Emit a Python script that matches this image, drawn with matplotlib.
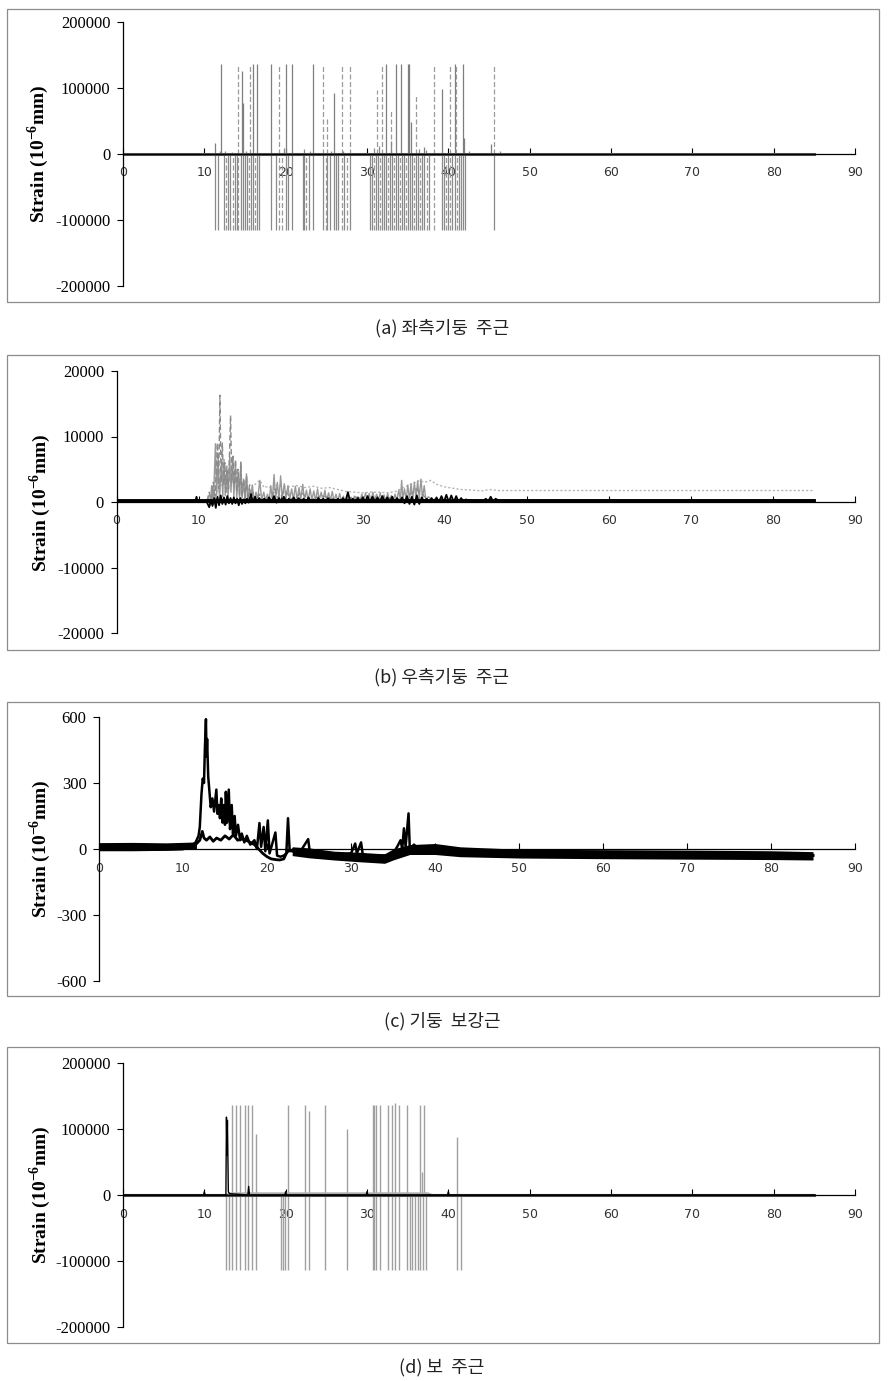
import numpy as np
import matplotlib
matplotlib.use("Agg")
import matplotlib.pyplot as plt
from matplotlib.patches import Rectangle

plt.rcParams['axes.unicode_minus'] = False
plt.rcParams['mathtext.fontset'] = 'custom'
plt.rcParams['mathtext.rm'] = 'Liberation Serif'
plt.rcParams['mathtext.bf'] = 'Liberation Serif:bold'

# ---------------- (a) left column main bars ----------------
a_floor = -115000
a_pos_solid_t = [11.35, 12.04, 14.61, 14.73, 16.0, 16.49, 18.2, 20.08, 20.73, 23.31, 26.0, 32.33,
                 33.59, 34.2, 35.06, 35.22, 35.47, 36.98, 39.27, 40.78, 41.8, 41.88, 45.22]
a_pos_solid_v = [17000, 137000, 125000, 77000, 137000, 137000, 137000, 137000, 137000, 137000, 93000, 137000,
                 137000, 137000, 137000, 137000, 49000, 10000, 99000, 137000, 137000, 24000, 15000]
a_pos_dash_t = [14.12, 15.63, 19.22, 24.65, 25.14, 26.9, 27.88, 31.27, 31.88, 32.94, 36.08, 38.29,
                40.24, 40.94, 45.67]
a_pos_dash_v = [137000, 137000, 136000, 137000, 56000, 137000, 135000, 97000, 137000, 66000, 89000, 136000,
                136000, 137000, 136000]
a_neg_solid_t = [11.35, 11.63, 12.37, 12.94, 13.18, 13.71, 13.96, 14.49, 14.73, 14.98, 15.27, 15.76, 16.0,
                 16.49, 16.69, 18.2, 18.78, 20.08, 20.33, 20.73, 22.08, 22.29, 22.82, 23.31, 24.65,
                 25.14, 25.39, 26.0, 26.24, 26.49, 27.22, 27.88, 30.41, 30.61, 31.1, 31.35, 31.88, 32.12,
                 32.37, 32.86, 33.1, 33.59, 33.84, 34.33, 34.57, 35.06, 35.31, 35.55, 36.04, 36.29, 36.82,
                 37.06, 37.59, 39.27, 39.51, 40.0, 40.49, 40.78, 41.27, 41.51, 41.8, 42.04, 45.67]
a_neg_dash_t = [12.65, 13.47, 14.2, 15.51, 16.24, 19.22, 19.51, 22.53, 24.9, 26.9, 27.51, 30.86, 31.63,
                32.61, 33.35, 34.08, 34.82, 35.8, 36.53, 37.35, 38.29, 39.76, 40.24, 41.02]
a_small_t = [11.9, 12.5, 13.4, 15.1, 19.8, 22.3, 23.0, 25.6, 27.0, 30.8, 31.5, 33.0, 36.4, 37.3, 42.5, 46.3]
a_small_v = [5000, 4000, 3500, 4000, 9000, 8000, 5000, 5000, 4000, 9000, 12000, 20000, 8000, 6000, 4000, 4000]

# ---------------- (b) right column main bars ----------------
b_dash_t = [0, 11.0, 11.3, 11.5, 11.8, 12.0, 12.3, 12.45, 12.6, 12.75, 12.9, 13.05, 13.2, 13.35, 13.5,
            13.65, 13.9, 14.05, 14.2, 14.35, 14.5, 14.65, 14.8, 15.0, 15.15, 15.3, 15.5, 15.7, 15.85,
            16.0, 16.2, 16.4, 16.6, 17.0, 17.4, 17.8, 18.3, 18.8, 19.3, 19.8, 20.5, 21.5, 22.5, 23.5,
            25.0, 27.0, 29.0, 31.0, 33.0, 35.0, 36.5, 38.0, 40.0, 42.0, 85.0]
b_dash_v = [0, 0, 1500, -300, 3000, 500, 9000, 2000, 16300, 3000, 9000, 2500, 6000, 1500, 5000,
            2000, 13200, 3000, 7000, 2500, 6500, 1500, 5000, 1000, 6000, 800, 3500, 500, 4000,
            300, 2500, 200, 1500, 200, 1200, 300, 800, 200, 2000, 300, 1800, 200, 1500, 200,
            1000, 200, 800, 200, 700, 200, 2000, 300, 200, 100, 100]
b_solid_t = [0, 11.0, 11.2, 11.4, 11.6, 11.8, 12.06, 12.2, 12.4, 12.55, 12.8, 12.95, 13.1, 13.25, 13.45,
             13.6, 13.8, 13.95, 14.15, 14.3, 14.5, 14.65, 14.85, 15.0, 15.15, 15.3, 15.5, 15.65, 15.84,
             16.0, 16.2, 16.35, 16.55, 16.75, 17.0, 17.2, 17.46, 17.7, 17.95, 18.15, 18.4, 18.6, 18.8,
             19.0, 19.2, 19.4, 19.6, 19.8, 20.0, 20.2, 20.45, 20.65, 20.9, 21.1, 21.35, 21.55, 21.8,
             22.0, 22.25, 22.45, 22.7, 22.9, 23.15, 23.35, 23.6, 23.8, 24.05, 24.25, 24.5, 24.7, 24.95,
             25.15, 25.4, 25.6, 25.85, 26.05, 26.3, 26.5, 26.75, 26.95, 27.2, 27.4, 27.65, 27.85, 28.1,
             28.3, 28.55, 28.75, 29.0, 29.2, 29.45, 29.65, 29.9, 30.1, 30.35, 30.55, 30.8, 31.0, 31.25,
             31.45, 31.7, 31.9, 32.15, 32.35, 32.6, 32.8, 33.05, 33.25, 33.5, 33.7, 33.95, 34.15, 34.4,
             34.6, 34.75, 34.9, 35.1, 35.3, 35.5, 35.7, 35.9, 36.1, 36.3, 36.5, 36.7, 36.9, 37.1, 37.3,
             37.5, 37.7, 38.0, 38.5, 39.0, 39.5, 85.0]
b_solid_v = [0, 0, 800, -500, 2500, -300, 8900, 1000, 7000, 500, 6000, 800, 6500, 1000, 5500,
             600, 7000, 1500, 6800, 800, 6000, 500, 4500, 400, 6100, 600, 3500, 300, 4300,
             300, 2000, 200, 2600, 200, 1500, 300, 3300, 300, 1500, 200, 1200, 100, 2500,
             300, 4200, 500, 3000, 400, 4000, 600, 2800, 500, 2500, 400, 2000, 300, 2400,
             300, 2200, 400, 2700, 300, 1800, 200, 2000, 300, 1700, 200, 2000, 300, 1500,
             200, 1800, 200, 1400, 200, 1600, 100, 1200, 100, 1300, 100, 900, 100, 1000,
             100, 700, 100, 900, 100, 800, 100, 1200, 200, 1400, 200, 1300, 200, 1500,
             200, 1200, 200, 1400, 200, 1100, 200, 1300, 200, 1000, 100, 1200, 200, 1800,
             300, 3300, 500, 2000, 300, 2600, 400, 2800, 300, 3000, 400, 3200, 500, 3500, 600,
             2500, 300, 800, 300, 500, 0, 0]
b_dot_t = [11.5, 12.0, 12.5, 13.0, 13.5, 14.0, 14.5, 15.0, 15.5, 16.0, 16.5, 17.0, 17.46, 18.0, 18.5,
           19.0, 19.5, 20.0, 21.0, 22.0, 23.0, 24.0, 25.0, 26.0, 27.0, 28.0, 29.0, 30.0, 31.0, 32.0,
           33.0, 34.0, 35.0, 36.0, 37.0, 37.5, 38.3, 39.0, 40.0, 41.0, 42.0, 43.0, 44.5, 45.5, 46.5, 85.0]
b_dot_v = [0, 2000, 1500, 3500, 2500, 4000, 3000, 3500, 2500, 3000, 2200, 2800, 3300, 2200, 2400,
           2000, 2600, 2400, 2300, 2500, 2200, 2400, 2100, 2200, 1900, 1600, 1500, 1400, 1500, 1500,
           1400, 1600, 2200, 2800, 3300, 3000, 3300, 2700, 2300, 2100, 1900, 1850, 1700, 1900, 1750, 1750]
b_black_t = [0, 9.6, 9.75, 9.9, 11.0, 11.3, 11.5, 11.7, 11.9, 12.1, 12.3, 12.5, 12.7, 12.9, 13.1, 13.3,
             13.5, 13.7, 13.9, 14.1, 14.3, 14.5, 14.7, 14.9, 15.1, 15.3, 15.5, 15.7, 15.9, 16.1, 16.4,
             16.6, 16.9, 17.1, 17.4, 17.7, 18.0, 18.3, 18.6, 18.9, 19.2, 19.5, 19.8, 20.1, 20.4, 20.7,
             21.0, 21.3, 21.6, 21.9, 22.2, 22.5, 22.8, 23.1, 23.4, 23.7, 24.0, 24.3, 24.6, 24.9, 25.2,
             25.5, 25.8, 26.1, 26.4, 26.7, 27.0, 27.3, 27.6, 27.9, 28.2, 28.5, 28.8, 29.1, 29.4, 29.7,
             30.0, 30.3, 30.6, 30.9, 31.2, 31.5, 31.8, 32.1, 32.4, 32.7, 33.0, 33.3, 33.6, 33.9, 34.2,
             34.5, 34.8, 35.1, 35.4, 35.7, 36.0, 36.3, 36.6, 36.9, 37.2, 37.5, 37.8, 38.1, 38.4, 38.7,
             39.0, 39.3, 39.6, 39.9, 40.2, 40.5, 40.8, 41.1, 41.4, 41.7, 42.0, 42.3, 42.6, 42.9, 43.2,
             43.5, 43.8, 44.1, 44.4, 44.7, 45.0, 45.3, 45.6, 45.9, 46.2, 46.6, 85.0]
b_black_v = [0, 0, 800, 0, 0, -800, 300, -600, 600, -900, 800, -500, 1000, -300, 700, -400,
             900, -200, 600, -300, 700, -200, 500, -500, 600, -300, 400, -200, 500, -100, 1200,
             0, 800, 0, 600, 0, 500, 0, 700, 0, 900, -100, 600, 0, 800, 0,
             500, 0, 700, 0, 600, 0, 500, 0, 700, 0, 400, 0, 600, 0, 500,
             0, 600, 0, 400, 0, 500, 0, 600, 0, 1500, 0, 500, 0, 600, 0,
             700, 0, 900, 0, 800, 0, 700, 0, 900, 0, 700, 0, 800, 0, 600,
             0, 700, -200, 900, -300, 800, -400, 1000, -300, 700, 0, 500, 0, 600, 0,
             700, 0, 900, 0, 1100, 0, 1000, 0, 900, 0, 600, 100, 400, 100, 300,
             100, 300, 100, 300, 100, 500, 100, 800, 100, 500, 200, 200]
b_base_t = [0, 85]
b_base_v = [100, 100]

# ---------------- (c) column ties ----------------
c1_t = [0, 2, 4, 6, 8, 10, 11.0, 11.5, 11.85, 12.0, 12.2, 12.35, 12.5, 12.6, 12.73, 12.8, 12.87, 13.0,
        13.15, 13.3, 13.5, 13.7, 13.97, 14.1, 14.25, 14.4, 14.55, 14.7, 14.85, 15.0, 15.1, 15.25, 15.45,
        15.6, 15.8, 15.95, 16.15, 16.3, 16.55, 16.8, 17.0, 17.3, 17.6, 18.0, 18.5, 18.8, 19.1, 19.3,
        19.6, 19.8, 20.1, 20.3, 20.6, 21.0, 21.2, 21.6, 22.0, 22.3, 22.5, 22.7, 23.2, 24.0, 24.9, 25.1,
        26, 27, 28, 29, 30, 30.5, 30.7, 31.2, 31.4, 32, 33, 34, 35, 35.5, 35.9, 36.1, 36.3, 36.5, 36.85,
        37.0, 37.5, 38, 39, 40, 41, 42, 43, 45, 50, 55, 60, 65, 70, 75, 80, 85]
c1_v = [12, 14, 10, 14, 12, 14, 15, 30, 60, 100, 250, 320, 300, 450, 590, 420, 500, 330,
        260, 190, 230, 170, 270, 160, 200, 140, 230, 120, 200, 110, 260, 120, 270,
        90, 200, 70, 150, 60, 110, 40, 70, 30, 60, 20, 40, 0, 118, 10,
        100, -10, 130, -20, 20, 75, -30, -35, -30, -20, 140, -10, 0, -10, 45, -15,
        -20, -25, -20, -25, -20, 25, -20, 30, -25, -30, -30, -30, -20, 10, 40, 0, 94, 10, 162,
        0, 20, 0, 0, 5, 10, 0, -10, -15, -15, -20, -20, -22, -22, -25, -25, -28]
c2_t = [0, 5, 10, 11.5, 12.0, 12.3, 12.5, 12.8, 13.2, 13.6, 14.0, 14.5, 15.0, 15.5, 16.0, 16.5, 17.0,
        17.5, 18.0, 18.5, 19.0, 19.5, 20.0, 20.5, 21.0, 21.5, 22.0, 22.3, 22.6, 23, 24, 25, 26, 27, 28,
        29, 30, 31, 32, 33, 34, 34.6, 35, 35.5, 36, 37, 38, 40, 43, 45, 50, 60, 70, 80, 85]
c2_v = [0, -2, 0, 20, 40, 80, 50, 40, 55, 35, 50, 40, 60, 45, 65, 40, 45,
        40, 30, 20, 0, -20, -35, -45, -48, -50, -45, -20, -5, -10, -15, -20, -25, -25, -30,
        -30, -35, -35, -40, -42, -45, -50, -30, -10, -5, -10, -5, -5, -10, -15, -18, -22, -24, -27, -30]
# noise band around the trace (read as lower / upper edges)
c_band1_t = [0, 4, 8, 11.6]
c_band1_lo = [-8, -8, -6, 0]
c_band1_hi = [29, 30, 28, 32]
c_band2_t = [23, 25, 28, 31, 34, 35, 37, 40, 43, 50, 60, 70, 80, 85]
c_band2_lo = [-30, -40, -50, -58, -65, -50, -25, -25, -35, -41, -44, -46, -48, -50]
c_band2_hi = [10, 5, -10, -15, -22, 0, 20, 25, 10, -1, -3, -5, -8, -12]

# ---------------- (d) beam main bars ----------------
d_floor = -114000
d_pos_t = [13.46, 13.87, 14.37, 14.98, 15.4, 15.9, 16.3, 20.28, 22.34, 22.83, 24.88, 27.6, 30.7, 30.9,
           31.15, 31.6, 32.6, 33.07, 33.48, 33.93, 34.92, 36.56, 36.77, 37.05, 41.08]
d_pos_v = [136000, 136000, 136000, 136000, 136000, 136000, 92000, 136000, 136000, 127000, 136000, 100000,
           136000, 136000, 136000, 136000, 136000, 136000, 139000, 136000, 136000, 136000, 35000, 136000,
           88000]
d_neg_t = [12.72, 13.05, 13.46, 13.87, 14.37, 14.98, 15.4, 15.9, 16.3, 19.38, 19.63, 19.95, 20.28, 22.34,
           22.83, 24.88, 27.6, 30.7, 30.9, 31.15, 31.6, 32.6, 33.07, 33.48, 33.93, 34.92, 35.24, 35.57,
           35.9, 36.23, 36.56, 36.85, 37.21, 41.08, 41.58]
d_black_t = [0, 9.9, 10.0, 10.1, 12.65, 12.72, 12.78, 12.84, 12.95, 13.1, 15.35, 15.45, 15.55, 19.9, 20.0,
             20.1, 29.9, 30.0, 30.1, 39.9, 40.0, 40.1, 85]
d_black_v = [0, 0, 5000, 0, 0, 118000, 60000, 113000, 5000, 2000, 0, 13000, 0, 0, 5000,
             0, 0, 5000, 0, 0, 5000, 0, 0]
d_gray_t = [0, 12.7, 13.0, 37.5, 38.0, 85]
d_gray_v = [0, 0, 2500, 2500, 0, 0]

captions = ["(a) 좌측기둥  주근", "(b) 우측기둥  주근", "(c) 기둥  보강근", "(d) 보  주근"]
ylabel = r"Strain (10$^{\mathbf{-6}}$mm)"

W, H = 889, 1381
fig = plt.figure(figsize=(W / 100, H / 100), dpi=100)


def px_axes(left, right, top, bottom):
    return fig.add_axes([left / W, 1 - bottom / H, (right - left) / W, (bottom - top) / H])


def style(ax, lim, step, label_x, label_y):
    ax.set_xlim(0, 90)
    ax.set_ylim(-lim, lim)
    ax.patch.set_visible(False)
    for s in ['top', 'right']:
        ax.spines[s].set_visible(False)
    ax.spines['bottom'].set_position(('data', 0))
    ax.spines['bottom'].set_linewidth(0.9)
    ax.spines['left'].set_linewidth(0.9)
    ax.set_xticks(range(0, 91, 10))
    ax.set_xticklabels([str(v) for v in range(0, 91, 10)], fontsize=9, color='#333333',
                       family='DejaVu Sans')
    ax.tick_params(axis='x', direction='in', length=4, width=0.8, pad=9)
    yt = [-lim, -step, 0, step, lim]
    ax.set_yticks(yt)
    ax.set_yticklabels([str(v) for v in yt], fontsize=12, family='Liberation Serif')
    ax.tick_params(axis='y', direction='out', length=4, width=0.8, pad=5)
    fig.text(label_x / W, 1 - label_y / H, ylabel, rotation=90, ha='center', va='center',
             fontsize=14, fontweight='bold', family='Liberation Serif')


boxes = [(9, 302), (355, 650), (702, 996), (1047, 1343)]
cap_y = [328, 677, 1021, 1368]
for (top, bot), cy, cap in zip(boxes, cap_y, captions):
    fig.add_artist(Rectangle((7 / W, 1 - bot / H), 872 / W, (bot - top) / H,
                             transform=fig.transFigure, fill=False, edgecolor='#8c8c8c', lw=0.9))
    fig.text(442 / W, 1 - cy / H, cap, ha='center', va='center', fontsize=13,
             family=['Noto Sans CJK KR', 'DejaVu Sans'], color='#222222')

# (a)
ax = px_axes(123, 855, 22, 286)
ax.vlines(a_neg_solid_t, a_floor, 0, color='#8a8a8a', lw=0.9)
ax.vlines(a_neg_dash_t, a_floor, 0, color='#9a9a9a', lw=0.9, linestyles=(0, (4, 2)))
ax.vlines(a_pos_solid_t, 0, a_pos_solid_v, color='#7e7e7e', lw=0.9)
ax.vlines(a_pos_dash_t, 0, a_pos_dash_v, color='#9a9a9a', lw=0.9, linestyles=(0, (4, 2)))
ax.vlines(a_small_t, 0, a_small_v, color='#8a8a8a', lw=0.9)
ax.plot([0, 85], [0, 0], color='#5a5a5a', lw=2.2)
style(ax, 200000, 100000, 38, 154)

# (b)
ax = px_axes(116.5, 855, 371, 633)
ax.plot(b_dot_t, b_dot_v, color='#b5b5b5', lw=1.0, ls=(0, (1.5, 1.5)))
ax.plot(b_solid_t, b_solid_v, color='#999999', lw=1.0)
ax.plot(b_dash_t, b_dash_v, color='#8a8a8a', lw=1.0, ls=(0, (4, 2)))
ax.plot(b_base_t, b_base_v, color='black', lw=2.8)
ax.plot(b_black_t, b_black_v, color='black', lw=1.3)
style(ax, 20000, 10000, 40, 503)

# (c)
ax = px_axes(99, 855, 717, 981)
ax.fill_between(c_band1_t, c_band1_lo, c_band1_hi, color='black', lw=0)
ax.fill_between(c_band2_t, c_band2_lo, c_band2_hi, color='black', lw=0)
ax.plot(c2_t, c2_v, color='black', lw=2.0)
ax.plot(c1_t, c1_v, color='black', lw=1.8)
style(ax, 600, 300, 40, 849)

# (d)
ax = px_axes(123, 855, 1063, 1327)
ax.vlines(d_neg_t, d_floor, 0, color='#a0a0a0', lw=1.0)
ax.vlines(d_pos_t, 0, d_pos_v, color='#a0a0a0', lw=1.0)
ax.plot(d_gray_t, d_gray_v, color='#b0b0b0', lw=1.5)
ax.plot([0, 85], [0, 0], color='#555555', lw=2.2)
ax.plot(d_black_t, d_black_v, color='black', lw=1.0)
style(ax, 200000, 100000, 40, 1195)

fig.savefig("out.png", dpi=100)
